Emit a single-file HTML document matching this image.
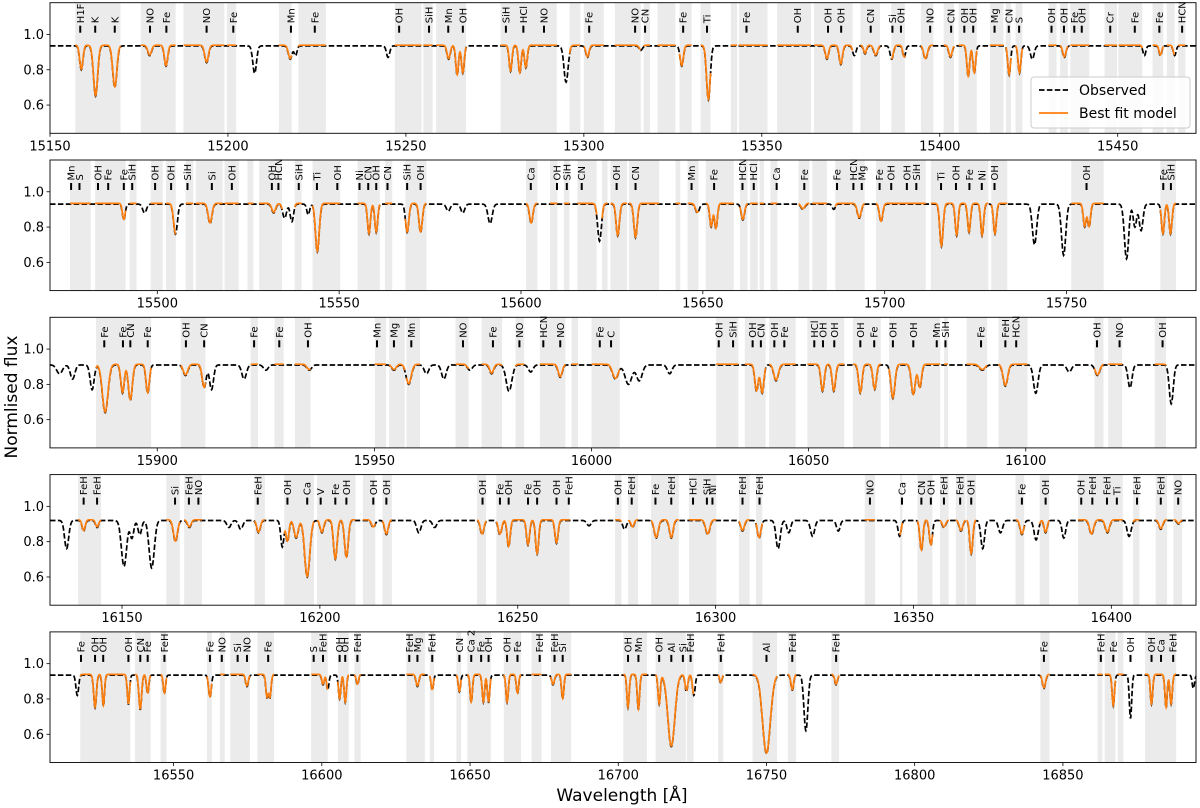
<!DOCTYPE html>
<html><head><meta charset="utf-8"><style>
html,body{margin:0;padding:0;background:#fff;}
svg{display:block;font-family:"DejaVu Sans","Liberation Sans",sans-serif;}
</style></head><body>
<svg id="chart" width="1200" height="808" viewBox="0 0 1200 808" xmlns="http://www.w3.org/2000/svg">
<text x="0" y="0" transform="translate(17,397) rotate(-90)" text-anchor="middle" font-size="17">Normlised flux</text>
<text x="622" y="801" text-anchor="middle" font-size="17">Wavelength [Å]</text>
</svg>
<script>
// ---------- data ----------
const panelRanges = [[15150,15472],[15470.5,15785.6],[15875.3,16139.2],[16131.8,16421.4],[16508.3,16894.9]];
const panelContinuum = [0.935,0.93,0.91,0.92,0.935];
const yTicks = [0.6,0.8,1.0];
const yTickLabels = ["0.6","0.8","1.0"];

const panel1Lines = [[15158.8,0.80,0.35],[15162.8,0.65,0.45],[15168.2,0.70,0.45],[15178,0.88,0.4],[15182.6,0.82,0.35],[15194,0.84,0.4],[15207.5,0.78,0.4],[15217.5,0.86,0.4],[15219,0.88,0.3],[15245,0.87,0.35],[15262,0.86,0.35],[15264.4,0.77,0.3],[15266,0.78,0.3],[15279.4,0.79,0.3],[15282,0.78,0.3],[15283.7,0.81,0.3],[15295,0.73,0.45],[15301,0.87,0.35],[15316,0.91,0.35],[15327.5,0.82,0.35],[15335,0.63,0.4],[15368.3,0.86,0.35],[15372.2,0.83,0.35],[15376,0.88,0.35],[15379,0.89,0.3],[15382,0.88,0.4],[15386.5,0.86,0.35],[15390,0.87,0.3],[15396,0.86,0.4],[15403,0.87,0.35],[15408,0.76,0.3],[15409.7,0.78,0.3],[15419.5,0.77,0.3],[15422.4,0.78,0.3],[15426,0.86,0.4],[15435,0.87,0.35],[15457.5,0.88,0.3],[15462,0.88,0.3],[15466,0.88,0.3]];
const panel2Lines = [[15490.8,0.84,0.3],[15496.5,0.88,0.4],[15505,0.76,0.4],[15514.5,0.82,0.4],[15532,0.88,0.4],[15535,0.85,0.4],[15537,0.83,0.35],[15541.5,0.87,0.3],[15544,0.66,0.4],[15558.2,0.76,0.3],[15560.2,0.77,0.3],[15568.7,0.77,0.35],[15572.4,0.77,0.35],[15580,0.89,0.4],[15584,0.88,0.4],[15591.5,0.82,0.45],[15602.8,0.82,0.35],[15621.6,0.72,0.4],[15626.6,0.75,0.35],[15631.5,0.74,0.35],[15648.5,0.88,0.4],[15652.3,0.80,0.3],[15653.6,0.79,0.3],[15661,0.84,0.35],[15677.5,0.9,0.4],[15686,0.9,0.3],[15693,0.85,0.4],[15699,0.83,0.35],[15715.6,0.69,0.35],[15719.8,0.75,0.3],[15723.2,0.77,0.3],[15726.8,0.75,0.3],[15730.3,0.76,0.3],[15741.2,0.70,0.45],[15749.2,0.64,0.45],[15755,0.80,0.3],[15756.2,0.80,0.3],[15766.5,0.62,0.45],[15768.8,0.80,0.35],[15770.5,0.78,0.4],[15776.5,0.76,0.3],[15778.6,0.76,0.3]];
const panel3Lines = [[15877.5,0.86,0.5],[15880.5,0.83,0.4],[15885,0.77,0.35],[15888,0.64,0.5],[15892,0.75,0.3],[15893.8,0.71,0.35],[15897.8,0.75,0.3],[15906.5,0.85,0.4],[15910.8,0.78,0.35],[15912.5,0.77,0.35],[15920,0.83,0.4],[15925,0.88,0.4],[15935,0.88,0.4],[15954.5,0.88,0.4],[15957.9,0.80,0.45],[15962,0.86,0.4],[15966,0.83,0.4],[15972,0.88,0.4],[15977,0.86,0.35],[15981,0.76,0.5],[15986,0.87,0.4],[15992.8,0.84,0.35],[16005.5,0.83,0.5],[16008.5,0.80,0.6],[16011,0.82,0.5],[16018,0.86,0.4],[16038,0.76,0.3],[16039.3,0.75,0.3],[16042.5,0.82,0.4],[16053.2,0.76,0.3],[16055.8,0.76,0.3],[16061.9,0.75,0.3],[16065.2,0.77,0.3],[16069.4,0.72,0.35],[16074.1,0.74,0.35],[16075.6,0.78,0.3],[16090,0.88,0.5],[16095.3,0.79,0.4],[16102.3,0.75,0.4],[16110,0.87,0.4],[16116.5,0.85,0.4],[16124,0.78,0.35],[16133.5,0.69,0.35]];
const panel4Lines = [[16136,0.76,0.4],[16140.3,0.86,0.3],[16143.7,0.88,0.3],[16150.5,0.66,0.5],[16152.5,0.82,0.35],[16154.5,0.84,0.35],[16157.5,0.65,0.5],[16163.5,0.80,0.4],[16167,0.88,0.35],[16177,0.88,0.4],[16180,0.87,0.4],[16184.5,0.85,0.35],[16190.5,0.77,0.3],[16191.8,0.80,0.3],[16194,0.82,0.4],[16196.8,0.60,0.5],[16200.5,0.85,0.35],[16203.9,0.70,0.35],[16206.7,0.71,0.35],[16213.5,0.88,0.35],[16216.8,0.84,0.35],[16225,0.85,0.4],[16229,0.88,0.4],[16241,0.84,0.35],[16245.5,0.84,0.35],[16247.7,0.77,0.3],[16252.6,0.78,0.3],[16254.9,0.73,0.3],[16259.8,0.79,0.3],[16268,0.89,0.4],[16277,0.87,0.35],[16279,0.88,0.3],[16285,0.82,0.4],[16288.8,0.82,0.35],[16298,0.84,0.4],[16306.8,0.86,0.35],[16311,0.82,0.35],[16315.8,0.76,0.4],[16318.5,0.85,0.35],[16324.5,0.83,0.4],[16331,0.86,0.35],[16346.5,0.83,0.3],[16352,0.75,0.3],[16354.4,0.78,0.3],[16357.7,0.88,0.35],[16362,0.86,0.35],[16364.6,0.73,0.3],[16367.5,0.76,0.35],[16372,0.85,0.4],[16377.4,0.84,0.35],[16381,0.81,0.4],[16383.4,0.85,0.3],[16388,0.82,0.35],[16395,0.84,0.4],[16399,0.85,0.4],[16404.5,0.83,0.4],[16412.5,0.87,0.35],[16417,0.90,0.3]];
const panel5Lines = [[16517.5,0.82,0.35],[16523.5,0.75,0.35],[16526.3,0.76,0.3],[16534.75,0.77,0.3],[16538.75,0.74,0.35],[16541.25,0.83,0.3],[16546.9,0.83,0.3],[16562.25,0.81,0.35],[16574.75,0.87,0.35],[16581.5,0.81,0.3],[16582.5,0.81,0.3],[16600.4,0.88,0.3],[16602,0.85,0.3],[16606,0.80,0.3],[16607.9,0.78,0.3],[16612,0.88,0.3],[16632.25,0.87,0.35],[16637.25,0.85,0.3],[16646.4,0.84,0.3],[16650.4,0.78,0.3],[16654.5,0.78,0.3],[16656.25,0.78,0.3],[16662.5,0.78,0.3],[16666,0.83,0.3],[16678,0.88,0.35],[16681.25,0.80,0.3],[16703.3,0.75,0.3],[16706.8,0.74,0.3],[16713.8,0.77,0.3],[16717.9,0.53,0.9],[16723,0.84,0.35],[16725.5,0.82,0.35],[16734.6,0.89,0.3],[16750,0.49,1.0],[16758.7,0.85,0.35],[16763.3,0.62,0.5],[16773.5,0.88,0.35],[16843.6,0.86,0.4],[16867,0.76,0.3],[16872.8,0.69,0.3],[16879.9,0.77,0.3],[16884.8,0.75,0.3],[16886.5,0.77,0.3],[16894,0.86,0.3]];

const panel1Windows = [[15157.1,15169.8],[15175.5,15185.3],[15187.5,15199],[15199.7,15202.3],[15214.3,15217.9],[15219.8,15227.5],[15246.9,15254.4],[15254.9,15257.5],[15258.5,15266.9],[15276.6,15292.4],[15296,15299],[15300,15305.6],[15308.7,15316],[15316.8,15318.6],[15320.7,15325.7],[15326.9,15330.3],[15332.8,15335.6],[15341.3,15343.1],[15343.6,15351.6],[15354.3,15363.8],[15364.7,15375.5],[15377.7,15383.2],[15386.4,15390.2],[15394.7,15398.2],[15401.1,15404],[15405.3,15410.4],[15414.1,15417.9],[15418.6,15420],[15421.3,15423.2],[15430.6,15432.8],[15433.8,15436],[15436.7,15442],[15446.3,15449.8],[15450.2,15456.9],[15459.8,15462.8],[15463.8,15466],[15467,15469]];
const panel2Windows = [[15476,15481.7],[15482.9,15491.3],[15492.4,15494.3],[15498.2,15501.5],[15502.4,15505.1],[15507.8,15509.9],[15510.6,15518],[15518.5,15522.4],[15524.8,15526.4],[15528,15534.3],[15537.8,15539.7],[15542.7,15550.3],[15555.1,15561.2],[15562.6,15564.6],[15568.2,15574],[15601.4,15604.5],[15608,15610],[15611.8,15613.3],[15615.5,15620.8],[15622.3,15623.8],[15624.6,15629.2],[15629.7,15638],[15642.5,15643.8],[15645.8,15648.8],[15650.8,15658.5],[15660.2,15662.3],[15663,15665.1],[15665.6,15666.8],[15668.6,15670.5],[15676.3,15679.3],[15680.1,15684.1],[15686.4,15694.5],[15697.6,15711.3],[15712.7,15728.5],[15729.3,15733.7],[15751.3,15760.2],[15775.8,15780.1]];
const panel3Windows = [[15885.9,15898.6],[15905.4,15911.1],[15921.5,15923.2],[15927,15929.1],[15931.7,15935.3],[15950.1,15952.7],[15953.4,15957],[15957.4,15960.5],[15968.7,15971.7],[15974.7,15979.4],[15982.5,15984.5],[15988.1,15994],[15995.4,15996.9],[16000,16006.5],[16028.7,16033.8],[16035.3,16040.1],[16040.9,16047],[16049.7,16058.2],[16060.2,16066.6],[16068.5,16080.3],[16081.2,16082.1],[16086.4,16091.1],[16093.7,16100.4],[16115.8,16117.9],[16119,16122.2],[16129.7,16132.3]];
const panel4Windows = [[16138.9,16144.7],[16161.2,16164.6],[16165.7,16170.2],[16183.5,16186.1],[16191,16198.5],[16199.3,16209],[16210.9,16214],[16215.8,16218.2],[16239.7,16242],[16244.6,16263.1],[16274.6,16276.2],[16277.9,16280.4],[16283.7,16290.7],[16293.3,16300.2],[16305.9,16308.6],[16310.2,16311.8],[16337.7,16340.3],[16346.6,16347.2],[16351,16354.8],[16356.7,16358.9],[16360.7,16363.1],[16363.4,16365.8],[16375.8,16378],[16381.9,16384.3],[16391.6,16402.9],[16405.5,16407.1],[16411.2,16414.1],[16415.7,16417.9]];
const panel5Windows = [[16518.5,16535.4],[16537,16542.25],[16545.6,16547.6],[16561.25,16562.9],[16565.6,16567.25],[16569.1,16575.75],[16578.25,16583.9],[16596.4,16602],[16605.4,16609.1],[16611,16613.1],[16628.5,16634.75],[16636.4,16637.9],[16645.4,16647],[16649.1,16657],[16661.4,16667.25],[16670.75,16674.1],[16677.25,16684.1],[16701.7,16709.7],[16712.6,16722.8],[16723.1,16725.4],[16733.7,16735.4],[16745.3,16753.6],[16757.2,16760],[16771.9,16774.5],[16842.4,16845.5],[16861.7,16863.3],[16864.1,16867.7],[16868.5,16870.4],[16877.7,16888.2]];

const panel1Labels = [[15158.5,"H1F"],[15162.7,"K"],[15168.2,"K"],[15178.1,"NO"],[15182.7,"Fe"],[15194,"NO"],[15201.5,"Fe"],[15217.7,"Mn"],[15224.4,"Fe"],[15248.1,"OH"],[15256.5,"SiH"],[15261.9,"Mn"],[15266,"OH"],[15278.1,"SiH"],[15283,"HCl"],[15288.8,"NO"],[15301.5,"Fe"],[15314.4,"NO"],[15317.2,"CN"],[15327.9,"Fe"],[15334.6,"Ti"],[15345.7,"Fe"],[15360.1,"OH"],[15368.6,"OH"],[15372.3,"OH"],[15380.6,"CN"],[15386.7,"Si"],[15389.1,"OH"],[15397.3,"NO"],[15403.2,"CN"],[15406.9,"OH"],[15409.4,"OH"],[15415.4,"Mg"],[15419.4,"CN"],[15422.3,"S"],[15431.4,"OH"],[15434.9,"OH"],[15437.8,"Fe"],[15439.9,"OH"],[15447.9,"Cr"],[15454.8,"Fe"],[15461.7,"Fe"],[15468.1,"HCN"]];
const panel2Labels = [[15476.3,"Mn"],[15478.6,"S"],[15483.7,"OH"],[15486.5,"Fe"],[15490.8,"Fe"],[15493.1,"SiH"],[15499.4,"OH"],[15503.8,"OH"],[15508.3,"SiH"],[15515,"Si"],[15520.5,"OH"],[15531.5,"OH"],[15533.3,"HCN"],[15538.9,"SiH"],[15543.9,"Ti"],[15549.5,"OH"],[15555.6,"Ni"],[15558,"CN"],[15560.2,"OH"],[15563.3,"CN"],[15568.7,"SiH"],[15572.4,"OH"],[15602.7,"Ca"],[15609.9,"OH"],[15612.6,"SiH"],[15616.7,"CN"],[15626.3,"OH"],[15631.5,"CN"],[15646.9,"Mn"],[15653.1,"Fe"],[15660.9,"HCN"],[15664,"HCl"],[15670.3,"Ca"],[15677.9,"Fe"],[15686.9,"Fe"],[15691.4,"HCN"],[15693.7,"Mg"],[15698.6,"Fe"],[15701.8,"OH"],[15706.1,"OH"],[15708.7,"SiH"],[15715.5,"Ti"],[15719.6,"OH"],[15723.3,"Fe"],[15726.7,"Ni"],[15730.2,"OH"],[15755.5,"OH"],[15776.6,"Fe"],[15778.7,"SiH"]];
const panel3Labels = [[15887.8,"Fe"],[15892.1,"Fe"],[15893.8,"CN"],[15897.8,"Fe"],[15906.6,"OH"],[15910.8,"CN"],[15922.3,"Fe"],[15928.1,"Fe"],[15934.7,"OH"],[15950.6,"Mn"],[15954.5,"Mg"],[15958.5,"Mn"],[15970.4,"NO"],[15977.3,"Fe"],[15983.4,"NO"],[15988.9,"HCN"],[15992.8,"NO"],[16001.9,"Fe"],[16004.5,"C"],[16029.3,"OH"],[16032.6,"SiH"],[16037.1,"OH"],[16039,"CN"],[16042.1,"OH"],[16044.4,"Fe"],[16051.3,"HCl"],[16053.3,"OH"],[16055.9,"OH"],[16061.9,"OH"],[16065.1,"Fe"],[16069.4,"OH"],[16074.1,"OH"],[16079.5,"Mn"],[16081.5,"SiH"],[16089.7,"Fe"],[16095.3,"FeH"],[16097.8,"HCN"],[16116.4,"OH"],[16121.6,"NO"],[16131.5,"OH"]];
const panel4Labels = [[16140.3,"FeH"],[16143.7,"FeH"],[16163.4,"Si"],[16166.9,"FeH"],[16169.3,"NO"],[16184.3,"FeH"],[16191.8,"OH"],[16196.8,"Ca"],[16200.2,"V"],[16203.9,"Fe"],[16206.7,"OH"],[16213.5,"OH"],[16216.8,"OH"],[16241.1,"OH"],[16245.5,"Fe"],[16247.7,"OH"],[16252.6,"Fe"],[16254.9,"OH"],[16259.8,"OH"],[16262.9,"FeH"],[16275.3,"OH"],[16278.8,"FeH"],[16284.8,"Fe"],[16288.8,"FeH"],[16294.3,"HCl"],[16297.8,"SiH"],[16299.2,"Ni"],[16306.8,"FeH"],[16311.1,"FeH"],[16339,"NO"],[16347.1,"Ca"],[16352,"CN"],[16354.4,"OH"],[16357.7,"FeH"],[16361.8,"FeH"],[16364.6,"OH"],[16377.4,"Fe"],[16383.4,"OH"],[16392.4,"OH"],[16395.2,"FeH"],[16398.9,"FeH"],[16401.4,"Ti"],[16406.5,"FeH"],[16412.5,"FeH"],[16416.9,"NO"]];
const panel5Labels = [[16518.75,"Fe"],[16523.5,"OH"],[16526.25,"OH"],[16534.75,"OH"],[16538.75,"CN"],[16541.25,"Fe"],[16546.9,"FeH"],[16562.25,"Fe"],[16566.25,"NO"],[16571.6,"Si"],[16574.75,"NO"],[16581.9,"Fe"],[16597.25,"S"],[16600.4,"FeH"],[16606,"OH"],[16607.9,"OH"],[16612,"FeH"],[16629.5,"FeH"],[16632.25,"Mg"],[16637.25,"FeH"],[16646.4,"CN"],[16650.4,"Ca 2"],[16653.75,"Fe"],[16656.25,"OH"],[16662.5,"OH"],[16666,"Fe"],[16673.5,"FeH"],[16678.5,"FeH"],[16681.25,"Si"],[16703.3,"OH"],[16706.8,"Mn"],[16713.8,"OH"],[16717.9,"Al"],[16721.8,"Si"],[16724.4,"FeH"],[16734.6,"FeH"],[16750,"Al"],[16758.7,"FeH"],[16773.5,"FeH"],[16843.6,"Fe"],[16862.8,"FeH"],[16867,"Fe"],[16872.8,"OH"],[16879.9,"OH"],[16883.1,"Ca"],[16887.2,"FeH"]];

const allLines = [panel1Lines,panel2Lines,panel3Lines,panel4Lines,panel5Lines];
const allWindows = [panel1Windows,panel2Windows,panel3Windows,panel4Windows,panel5Windows];
const allLabels = [panel1Labels,panel2Labels,panel3Labels,panel4Labels,panel5Labels];

// ---------- drawing ----------
const NS = "http://www.w3.org/2000/svg";
const svg = document.getElementById('chart');
const PL = 50, PR = 1196, PH = 130.6, PSTEP = 157.3, PTOP0 = 2.7;
const YMIN = 0.44, YMAX = 1.18;
const WIDTH_SCALE = 1.3;
function mk(tag, attrs, parent) {
  const e = document.createElementNS(NS, tag);
  for (const k in attrs) e.setAttribute(k, attrs[k]);
  (parent || svg).appendChild(e);
  return e;
}
function flux(lines, cont, lam) {
  let f = cont;
  for (const L of lines) {
    const d = 1 - L[1] / cont;
    const z = (lam - L[0]) / (L[2] * WIDTH_SCALE);
    if (Math.abs(z) < 6) f *= (1 - d * Math.exp(-0.5 * z * z));
  }
  return f;
}
for (let p = 0; p < 5; p++) {
  const top = PTOP0 + PSTEP * p, bot = top + PH;
  const [x0, x1] = panelRanges[p];
  const xs = l => PL + (l - x0) / (x1 - x0) * (PR - PL);
  const ys = v => top + (YMAX - v) / (YMAX - YMIN) * PH;
  const g = mk('g', {});
  
  
  const clipId = 'clip' + p;
  const cp = mk('clipPath', {id: clipId}, g);
  mk('rect', {x: PL, y: top, width: PR - PL, height: PH}, cp);
  for (const w of allWindows[p]) {
    const r = mk('rect', {x: xs(w[0]), y: top, width: Math.max(0.5, xs(w[1]) - xs(w[0])), height: PH, fill: '#ebebeb', 'clip-path': 'url(#' + clipId + ')'}, g);
    
    
  }
  let d = '';
  for (let l = x0; l <= x1 + 0.05; l += 0.1) {
    d += (d ? 'L' : 'M') + xs(l).toFixed(1) + ',' + ys(flux(allLines[p], panelContinuum[p], l)).toFixed(1);
  }
  const obs = mk('path', {d: d, fill: 'none', stroke: '#000', 'stroke-width': 1.7, 'stroke-dasharray': '5.5 2.4', 'clip-path': 'url(#' + clipId + ')'}, g);
  
  
  for (const w of allWindows[p]) {
    let m = '';
    for (let l = w[0]; l <= w[1] + 0.01; l += 0.1) {
      m += (m ? 'L' : 'M') + xs(l).toFixed(1) + ',' + ys(flux(allLines[p], panelContinuum[p], l) + 0.004).toFixed(1);
    }
    const mp = mk('path', {d: m, fill: 'none', stroke: '#ff7f0e', 'stroke-width': 1.7, 'clip-path': 'url(#' + clipId + ')'}, g);
    
    
  }
  for (const lb of allLabels[p]) {
    const x = xs(lb[0]);
    const mark = mk('rect', {x: x - 1, y: top + 23, width: 2, height: 7, fill: '#000'}, g);
    
    
    const t = mk('text', {transform: 'translate(' + (x + 3.5).toFixed(1) + ',' + (top + 20.5).toFixed(1) + ') rotate(-90)', 'font-size': 10}, g);
    t.textContent = lb[1];
    
    
  }
  const fr = mk('rect', {x: PL, y: top, width: PR - PL, height: PH, fill: 'none', stroke: '#000', 'stroke-width': 0.9}, g);
  
  
  for (let i = 0; i < yTicks.length; i++) {
    const y = ys(yTicks[i]);
    mk('line', {x1: PL - 3.5, x2: PL, y1: y, y2: y, stroke: '#000', 'stroke-width': 0.8}, g);
    const t = mk('text', {x: PL - 6, y: y + 4.5, 'text-anchor': 'end', 'font-size': 13}, g);
    t.textContent = yTickLabels[i];
    
    
  }
  for (let v = Math.ceil(x0 / 50) * 50; v <= x1; v += 50) {
    const x = xs(v);
    mk('line', {x1: x, x2: x, y1: bot, y2: bot + 3.5, stroke: '#000', 'stroke-width': 0.8}, g);
    const t = mk('text', {x: x, y: bot + 17, 'text-anchor': 'middle', 'font-size': 13}, g);
    t.textContent = String(v);
    
    
  }
}
const lg = mk('g', {});


mk('rect', {x: 1031, y: 77, width: 159, height: 51, rx: 3, fill: '#fff', 'fill-opacity': 0.85, stroke: '#ccc'}, lg);
mk('line', {x1: 1039, x2: 1068, y1: 90, y2: 90, stroke: '#000', 'stroke-width': 1.7, 'stroke-dasharray': '5.5 2.4'}, lg);
const t1 = mk('text', {x: 1079, y: 95, 'font-size': 14}, lg);
t1.textContent = 'Observed';


mk('line', {x1: 1039, x2: 1068, y1: 113, y2: 113, stroke: '#ff7f0e', 'stroke-width': 1.7}, lg);
const t2 = mk('text', {x: 1079, y: 118, 'font-size': 14}, lg);
t2.textContent = 'Best fit model';


</script>
</body></html>
